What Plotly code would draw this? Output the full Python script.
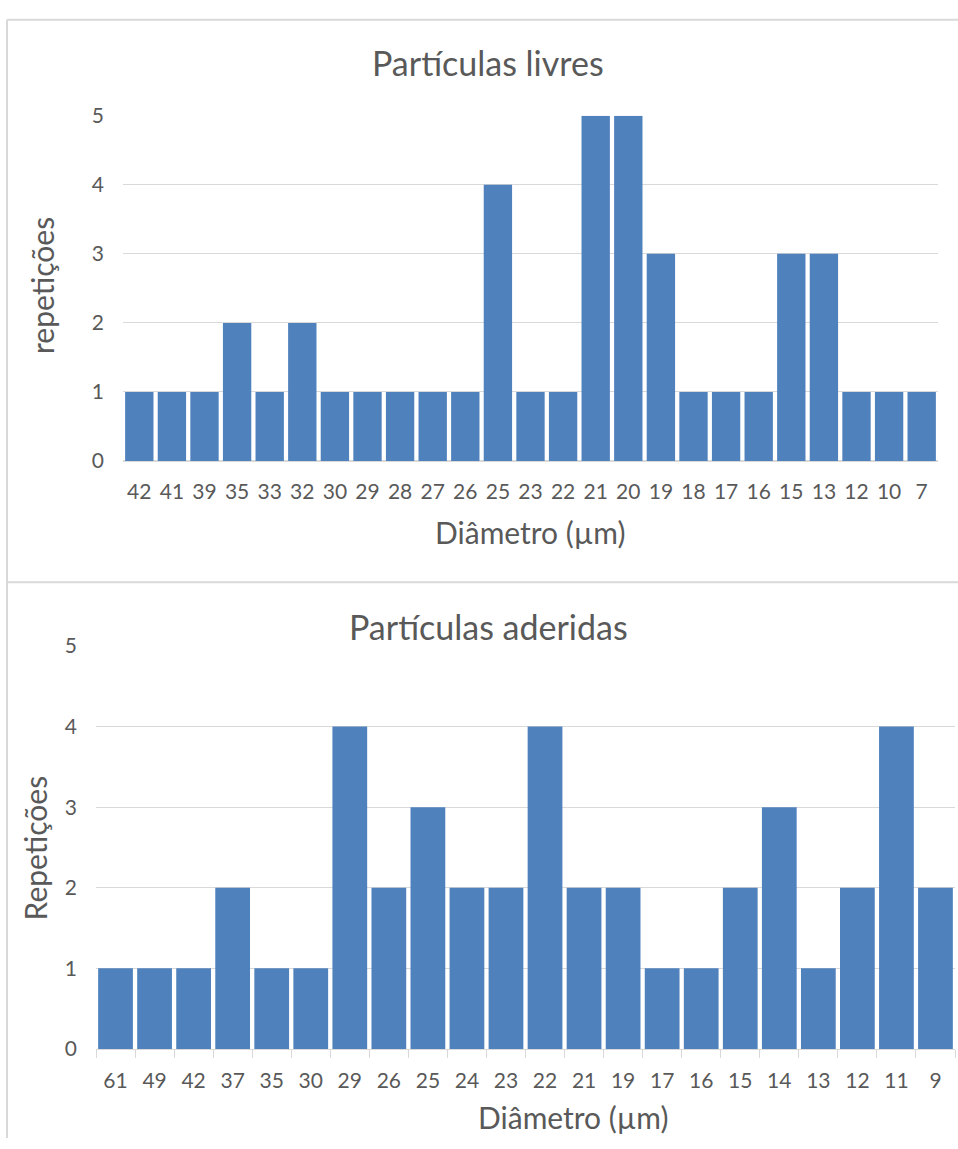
import plotly.graph_objects as go

# ---- data ----
livres_diam = ["42", "41", "39", "35", "33", "32", "30", "29", "28", "27", "26", "25", "23",
               "22", "21", "20", "19", "18", "17", "16", "15", "13", "12", "10", "7"]
livres_rep = [1, 1, 1, 2, 1, 2, 1, 1, 1, 1, 1, 4, 1, 1, 5, 5, 3, 1, 1, 1, 3, 3, 1, 1, 1]

aderidas_diam = ["61", "49", "42", "37", "35", "30", "29", "26", "25", "24", "23", "22",
                 "21", "19", "17", "16", "15", "14", "13", "12", "11", "9"]
aderidas_rep = [1, 1, 1, 2, 1, 1, 4, 2, 3, 2, 2, 4, 2, 2, 1, 1, 2, 3, 1, 2, 4, 2]

y_ticks = [0, 1, 2, 3, 4, 5]

# ---- layout constants ----
W, H = 958, 1149
BAR = "#4F81BD"
TXT = "#595959"
GRID = "#D9D9D9"
FONT = "Lato, Carlito, Calibri, sans-serif"


def px(x):
    return x / W


def py(y):
    return 1 - y / H


fig = go.Figure()
fig.add_trace(go.Bar(x=livres_diam, y=livres_rep, width=0.87,
                     marker=dict(color=BAR, line=dict(width=0)),
                     xaxis="x", yaxis="y", showlegend=False, hoverinfo="skip"))
fig.add_trace(go.Bar(x=aderidas_diam, y=aderidas_rep, width=0.89,
                     marker=dict(color=BAR, line=dict(width=0)),
                     xaxis="x2", yaxis="y2", showlegend=False, hoverinfo="skip"))

tickfont = dict(family=FONT, size=21, color=TXT)

fig.update_layout(
    width=W, height=H,
    margin=dict(l=0, r=0, t=0, b=0),
    paper_bgcolor="white", plot_bgcolor="white",
    font=dict(family=FONT, color=TXT),
    hovermode=False,
    xaxis=dict(domain=[px(123), px(938)], anchor="y", type="category",
               categoryorder="array", categoryarray=livres_diam,
               showgrid=False, showline=False, ticks="", tickfont=tickfont,
               ticklabelstandoff=16, fixedrange=True),
    yaxis=dict(domain=[py(457), py(104)], anchor="x", range=[0, 5], tickvals=y_ticks,
               showgrid=True, gridcolor=GRID, gridwidth=1, zeroline=True, zerolinecolor=GRID,
               showline=False, ticks="", tickfont=tickfont, ticklabelstandoff=18,
               fixedrange=True),
    xaxis2=dict(domain=[px(96), px(955)], anchor="y2", type="category",
                categoryorder="array", categoryarray=aderidas_diam,
                showgrid=False, showline=True, linecolor=GRID, linewidth=1,
                ticks="outside", tickson="boundaries", ticklen=8, tickcolor=GRID, tickwidth=1,
                tickfont=tickfont, ticklabelstandoff=13, fixedrange=True),
    yaxis2=dict(domain=[py(1058), py(646)], anchor="x2", range=[0, 5], tickvals=y_ticks,
                showgrid=True, gridcolor=GRID, gridwidth=1, zeroline=False,
                showline=False, ticks="", tickfont=tickfont, ticklabelstandoff=18,
                fixedrange=True),
)

annotations = [
    dict(text="Partículas livres", x=px(488), y=py(50), font=dict(size=34)),
    dict(text="Diâmetro (µm)", x=px(530), y=py(530), font=dict(size=30)),
    dict(text="repetições", x=px(42), y=py(278), font=dict(size=30), textangle=-90),
    dict(text="Partículas aderidas", x=px(488), y=py(626), font=dict(size=34)),
    dict(text="Diâmetro (µm)", x=px(573), y=py(1128), font=dict(size=30)),
    dict(text="Repetições", x=px(35), y=py(853), font=dict(size=30), textangle=-90),
]
for a in annotations:
    a.update(xref="paper", yref="paper", showarrow=False, xanchor="center", yanchor="middle")
    a["font"].update(family=FONT, color=TXT)
fig.update_layout(annotations=annotations)

line = dict(color=GRID, width=2)
fig.update_layout(shapes=[
    dict(type="line", xref="paper", yref="paper", x0=px(7), x1=1, y0=py(6), y1=py(6), line=line),
    dict(type="line", xref="paper", yref="paper", x0=px(7), x1=px(7), y0=py(6), y1=0, line=line),
    dict(type="line", xref="paper", yref="paper", x0=px(7), x1=1, y0=py(581), y1=py(581), line=line),
])

fig.write_html(
    "out.html",
    config={"displayModeBar": False, "staticPlot": True},
    post_script="document.body.style.margin='0';document.documentElement.style.overflow='hidden';",
)
